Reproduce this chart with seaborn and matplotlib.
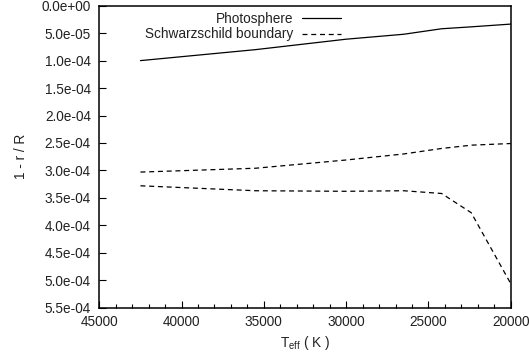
import matplotlib
matplotlib.use("Agg")
import matplotlib.pyplot as plt
import seaborn as sns
import pandas as pd
from matplotlib.ticker import MultipleLocator, FuncFormatter
from matplotlib.lines import Line2D

teff = [42500, 35500, 30000, 26500, 24200, 22400, 20000]
photosphere = [1.00e-4, 0.80e-4, 0.61e-4, 0.52e-4, 0.42e-4, 0.385e-4, 0.335e-4]
schw_upper = [3.03e-4, 2.96e-4, 2.81e-4, 2.70e-4, 2.60e-4, 2.54e-4, 2.51e-4]
schw_lower = [3.28e-4, 3.37e-4, 3.38e-4, 3.37e-4, 3.42e-4, 3.77e-4, 5.06e-4]

xticks = [45000, 40000, 35000, 30000, 25000, 20000]
labels = ["Photosphere", "Schwarzschild boundary"]

sns.set_theme(style="ticks")
plt.rcParams['font.family'] = ['Liberation Sans', 'DejaVu Sans']
plt.rcParams['mathtext.fontset'] = 'custom'
plt.rcParams['mathtext.rm'] = 'Liberation Sans'
plt.rcParams['mathtext.it'] = 'Liberation Sans'

fs = 9.8
fig = plt.figure(figsize=(5.29, 3.56), dpi=100)
ax = fig.add_axes([99.3/529, 1-307.7/356, (510.7-99.3)/529, (307.7-5.7)/356])

df = pd.DataFrame({"teff": teff, "ph": photosphere, "su": schw_upper, "sl": schw_lower})
dash = (0, (4, 3))
sns.lineplot(data=df, x="teff", y="ph", ax=ax, color="black", lw=0.9, sort=False)
sns.lineplot(data=df, x="teff", y="su", ax=ax, color="black", lw=0.9, sort=False, linestyle=dash)
sns.lineplot(data=df, x="teff", y="sl", ax=ax, color="black", lw=0.9, sort=False, linestyle=dash)

ax.set_xlim(45000, 20000)
ax.set_ylim(5.5e-4, 0.0)
ax.set_xticks(xticks)
ax.xaxis.set_minor_locator(MultipleLocator(1000))
ax.yaxis.set_major_locator(MultipleLocator(0.5e-4))
ax.yaxis.set_major_formatter(FuncFormatter(lambda v, p: "%.1e" % v))
ax.xaxis.set_major_formatter(FuncFormatter(lambda v, p: "%d" % v))

for s in ax.spines.values():
    s.set_linewidth(1.1)
    s.set_color("black")
ax.tick_params(axis="both", which="both", direction="in", top=False, right=False,
               labelsize=fs, colors="black", width=0.8)
ax.tick_params(axis="both", which="major", length=5)
ax.tick_params(axis="x", which="minor", length=3)
ax.tick_params(axis="y", which="major", pad=6)
ax.tick_params(axis="x", which="major", pad=5.5)
for t in ax.get_xticklabels() + ax.get_yticklabels():
    t.set_color("#222222")

ax.set_xlabel(r"T$_{\mathrm{eff}}$ ( K )", fontsize=fs, color="#222222", labelpad=3.5)
ax.set_ylabel("1 - r / R", fontsize=fs, color="#222222", labelpad=10)

handles = [Line2D([], [], color="black", lw=0.9),
           Line2D([], [], color="black", lw=0.9, linestyle=dash)]
leg = ax.legend(handles, labels, loc="upper right", bbox_to_anchor=(341/529, 1-12/356),
                bbox_transform=fig.transFigure, frameon=False, markerfirst=False,
                fontsize=fs, borderpad=0, borderaxespad=0, labelspacing=0.1,
                handlelength=2.9, handletextpad=0.6)
for t in leg.get_texts():
    t.set_color("#222222")

fig.savefig("out.png", dpi=100)
